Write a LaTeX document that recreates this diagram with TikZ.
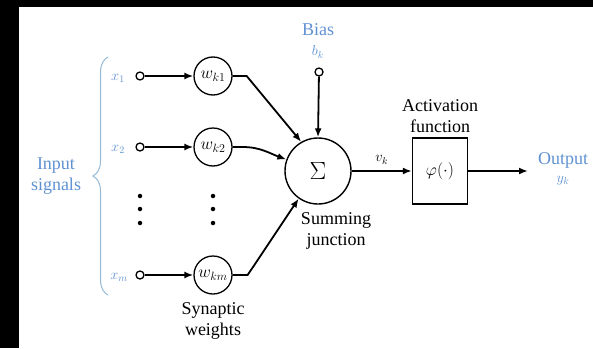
\documentclass[tikz,border=0pt]{standalone}
\usepackage{fontspec}
\setmainfont{Liberation Serif}
\usetikzlibrary{arrows.meta,decorations.pathreplacing}
\definecolor{sigblue}{RGB}{95,145,210}
\definecolor{braceblue}{RGB}{150,185,215}
\begin{document}
\begin{tikzpicture}[x=1pt,y=-1pt,
  lbl/.style={font=\fontsize{18}{21}\selectfont, inner sep=0pt, align=center},
  mlbl/.style={font=\fontsize{14}{16}\selectfont, inner sep=0pt},
  port/.style={circle, draw, line width=1.3pt, minimum size=8pt, inner sep=0pt, fill=white},
  weight/.style={circle, draw, line width=1.3pt, minimum size=38pt, inner sep=0pt, font=\fontsize{17}{20}\selectfont},
  wire/.style={line width=1.8pt},
  arr/.style={wire, -{Latex[length=9pt,width=7pt]}},
  dotmark/.style={circle, fill, minimum size=4.5pt, inner sep=0pt}]
% frame strips and canvas
\fill[black] (0,0) rectangle (19,348);
\fill[black] (0,0) rectangle (593,7);
\useasboundingbox (0,0) rectangle (593,348);

% input terminals and their labels
\node[mlbl, text=sigblue] (lx1) at (118,78) {$x_1$};
\node[mlbl, text=sigblue] (lx2) at (118,149) {$x_2$};
\node[mlbl, text=sigblue] (lxm) at (119,277) {$x_m$};
\node[port] (in1) at (140,76) {};
\node[port] (in2) at (140,147) {};
\node[port] (inm) at (140,275) {};

% synaptic weights
\node[weight] (w1) at (213,76) {$w_{k1}$};
\node[weight] (w2) at (213,147) {$w_{k2}$};
\node[weight] (wm) at (213,275) {$w_{km}$};

% ellipsis dots
\foreach \yy [count=\i] in {196,209,223} {
  \node[dotmark] (da\i) at (140,\yy) {};
  \node[dotmark] (db\i) at (213,\yy) {};
}

% input brace and caption
\draw[braceblue, line width=1pt, decorate, decoration={brace, amplitude=15pt}]
  (108,295) -- (108,57);
\node[lbl, text=sigblue] (insig) at (56,176) {Input\\signals};

% summing junction
\node[circle, draw, line width=1.4pt, minimum size=66pt, inner sep=0pt,
      font=\fontsize{28}{30}\selectfont] (sum) at (318,171) {$\Sigma$};
\node[lbl] (sumlbl) at (336,231) {Summing\\junction};

% bias
\node[lbl, text=sigblue] (biaslbl) at (318,30) {Bias};
\node[mlbl, text=sigblue] (bk) at (318,52) {$b_k$};
\node[port] (bias) at (319,72) {};

% activation function
\node[draw, line width=1.4pt, minimum width=55pt, minimum height=66pt, inner sep=0pt,
      font=\fontsize{17}{20}\selectfont] (act) at (440,171) {$\varphi(\cdot)$};
\node[lbl] (actlbl) at (440,116) {Activation\\function};

% output
\coordinate (out) at (528,171);
\node[lbl, text=sigblue] (outlbl) at (563,160) {Output};
\node[mlbl, text=sigblue] (yk) at (563,181) {$y_k$};

% connectors
\draw[arr] (in1) -- (w1);
\draw[arr] (in2) -- (w2);
\draw[arr] (inm) -- (wm);
\draw[arr] (w1.east) -- ++(14,0) -- (sum.120);
\draw[arr] (w2.east) -- ++(10,0) to[out=0, in=160] (sum.160);
\draw[arr] (wm.east) -- ++(15,0) -- (sum.235);
\draw[arr] (bias) -- (sum.north);
\draw[arr] (sum.east) -- node[mlbl, above=6pt] (vk) {$v_k$} (act.west);
\draw[arr] (act.east) -- (out);
\node[lbl] (synlbl) at (213,321) {Synaptic\\weights};
\end{tikzpicture}
\end{document}
